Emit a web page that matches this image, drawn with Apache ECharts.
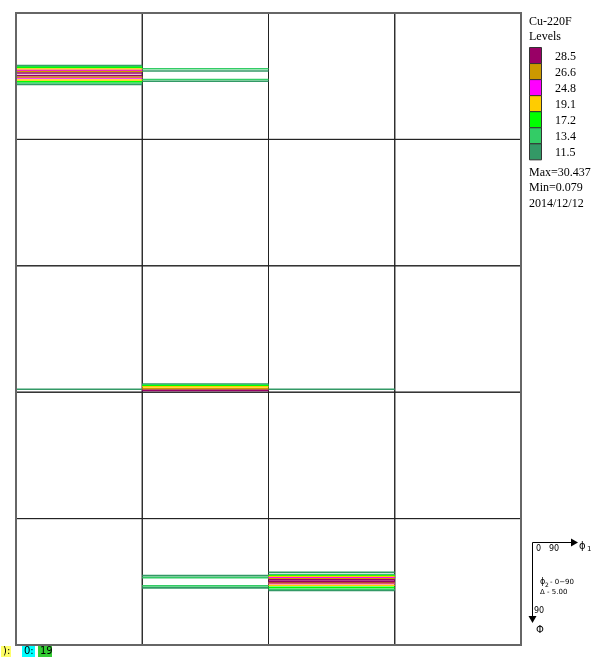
<!DOCTYPE html>
<html>
<head>
<meta charset="utf-8">
<script src="https://cdn.jsdelivr.net/npm/echarts@6/dist/echarts.min.js"></script>
<style>
  html, body { margin: 0; padding: 0; background: #fff; }
  #chart { width: 597px; height: 657px; }
</style>
</head>
<body>
<div id="chart"></div>
<script>
// ODF sections of Cu-220F: phi2 = 0..90 in 5 degree steps, each section phi1 (0-90) across, Phi (0-90) down.
const sectionPhi2 = [0, 5, 10, 15, 20, 25, 30, 35, 40, 45, 50, 55, 60, 65, 70, 75, 80, 85, 90];
const levels = [11.5, 13.4, 17.2, 19.1, 24.8, 26.6, 28.5];
const levelColors = ['#339966', '#33cc66', '#00ff00', '#ffcc00', '#ff00ff', '#cc9900', '#990066'];
const maxValue = 30.437;
const minValue = 0.079;
const dateLabel = '2014/12/12';

// Iso-intensity lines per section: [Phi, level value]; intensity is constant along phi1.
const contours_phi2_00 = [[37.4, 11.5], [38.1, 13.4], [38.8, 17.2], [39.9, 19.1], [40.9, 24.8], [41.7, 26.6], [42.7, 28.5],
                          [44.5, 28.5], [45.6, 26.6], [46.3, 24.8], [47.7, 19.1], [48.8, 17.2], [49.8, 13.4], [50.9, 11.5]];
const contours_phi2_05 = [[39.7, 13.4], [41.3, 11.5], [47.3, 13.4], [48.6, 11.5]];
const contours_phi2_40 = [[87.9, 11.5]];
const contours_phi2_45 = [[84.2, 11.5], [84.8, 13.4], [85.5, 17.2], [86.2, 19.1], [87.6, 26.6], [88.7, 28.5]];
const contours_phi2_50 = [[87.9, 11.5]];
const contours_phi2_85 = [[40.6, 11.5], [42.0, 13.4], [47.9, 13.4], [49.3, 11.5]];
const contours_phi2_90 = [[38.3, 11.5], [40.1, 13.4], [40.7, 17.2], [41.3, 19.1], [42.1, 24.8], [42.9, 26.6], [43.6, 28.5],
                          [45.0, 28.5], [45.6, 26.6], [46.1, 24.8], [47.5, 19.1], [49.0, 17.2], [50.3, 13.4], [51.1, 11.5]];

const contoursBySection = {
  0: contours_phi2_00, 5: contours_phi2_05, 40: contours_phi2_40, 45: contours_phi2_45,
  50: contours_phi2_50, 85: contours_phi2_85, 90: contours_phi2_90
};

// Panel layout
const frameLeft = 16, frameTop = 13, frameRight = 521, frameBottom = 645;
const nCols = 4, nRows = 5;
const cellW = (frameRight - frameLeft) / nCols;
const cellH = (frameBottom - frameTop) / nRows;

const grids = [], xAxes = [], yAxes = [], series = [];
for (let k = 0; k < nCols * nRows; k++) {
  const c = k % nCols, r = Math.floor(k / nCols);
  grids.push({
    left: frameLeft + c * cellW, top: frameTop + r * cellH, width: cellW, height: cellH,
    show: true, borderColor: '#222', borderWidth: 1, backgroundColor: 'transparent'
  });
  xAxes.push({ gridIndex: k, type: 'value', min: 0, max: 90, show: false });
  yAxes.push({ gridIndex: k, type: 'value', min: 0, max: 90, inverse: true, show: false });
  const phi2 = sectionPhi2[k];
  const lines = phi2 === undefined ? null : contoursBySection[phi2];
  if (!lines) continue;
  lines.forEach(([phi, lev]) => {
    series.push({
      type: 'line', xAxisIndex: k, yAxisIndex: k,
      data: [[0, phi], [90, phi]],
      symbol: 'none', silent: true, animation: false,
      lineStyle: { color: levelColors[levels.indexOf(lev)], width: 1.6 },
      z: 3 + levels.indexOf(lev)
    });
  });
}

// Legend, statistics and axis key
const serif = '"Liberation Serif", "Times New Roman", serif';
const graphics = [];
graphics.push({ type: 'rect', shape: { x: frameLeft, y: frameTop, width: frameRight - frameLeft, height: frameBottom - frameTop },
  style: { fill: 'none', stroke: '#666', lineWidth: 2 }, z: 10 });
graphics.push({ type: 'text', left: 529, top: 16, style: { text: 'Cu-220F', font: '12px ' + serif, fill: '#000' } });
graphics.push({ type: 'text', left: 529, top: 31, style: { text: 'Levels', font: '12px ' + serif, fill: '#000' } });
const swTop = 47.5, swH = 16.05;
levels.slice().reverse().forEach((lev, i) => {
  const idx = levels.length - 1 - i;
  graphics.push({ type: 'rect', shape: { x: 529.5, y: swTop + i * swH, width: 12, height: swH },
    style: { fill: levelColors[idx], stroke: '#333', lineWidth: 1 } });
  graphics.push({ type: 'text', x: 555, y: swTop + i * swH + swH / 2 + 1,
    style: { text: lev.toFixed(1), font: '12px ' + serif, fill: '#000', textVerticalAlign: 'middle' } });
});
graphics.push({ type: 'text', x: 529, y: 173, style: { text: 'Max=' + maxValue, font: '12px ' + serif, fill: '#000', textVerticalAlign: 'middle' } });
graphics.push({ type: 'text', x: 529, y: 188, style: { text: 'Min=' + minValue, font: '12px ' + serif, fill: '#000', textVerticalAlign: 'middle' } });
graphics.push({ type: 'text', x: 529, y: 204, style: { text: dateLabel, font: '12px ' + serif, fill: '#000', textVerticalAlign: 'middle' } });

// Axis key (phi1 to the right, Phi downward)
const small = '"DejaVu Sans", sans-serif';
graphics.push({ type: 'line', shape: { x1: 532.5, y1: 542.5, x2: 572, y2: 542.5 }, style: { stroke: '#000', lineWidth: 1 } });
graphics.push({ type: 'polygon', shape: { points: [[571, 538.5], [578, 542.5], [571, 546.5]] }, style: { fill: '#000' } });
graphics.push({ type: 'line', shape: { x1: 532.5, y1: 542.5, x2: 532.5, y2: 617 }, style: { stroke: '#000', lineWidth: 1 } });
graphics.push({ type: 'polygon', shape: { points: [[528.5, 616], [532.5, 623], [536.5, 616]] }, style: { fill: '#000' } });
graphics.push({ type: 'text', x: 536, y: 549, style: { text: '0', font: '8px ' + small, fill: '#000', textVerticalAlign: 'middle' } });
graphics.push({ type: 'text', x: 549, y: 549, style: { text: '90', font: '8px ' + small, fill: '#000', textVerticalAlign: 'middle' } });
graphics.push({ type: 'text', x: 579, y: 546, style: { text: 'ϕ', font: '10px ' + small, fill: '#000', textVerticalAlign: 'middle' } });
graphics.push({ type: 'text', x: 587, y: 549, style: { text: '1', font: '7px ' + small, fill: '#000', textVerticalAlign: 'middle' } });
graphics.push({ type: 'text', x: 540, y: 582, style: { text: 'ϕ', font: '8px ' + small, fill: '#000', textVerticalAlign: 'middle' } });
graphics.push({ type: 'text', x: 545, y: 585, style: { text: '2', font: '6px ' + small, fill: '#000', textVerticalAlign: 'middle' } });
graphics.push({ type: 'text', x: 550, y: 582, style: { text: '- 0−90', font: '7px ' + small, fill: '#000', textVerticalAlign: 'middle' } });
graphics.push({ type: 'text', x: 540, y: 592, style: { text: 'Δ - 5.00', font: '7px ' + small, fill: '#000', textVerticalAlign: 'middle' } });
graphics.push({ type: 'text', x: 534, y: 611, style: { text: '90', font: '8px ' + small, fill: '#000', textVerticalAlign: 'middle' } });
graphics.push({ type: 'text', x: 536, y: 630, style: { text: 'Φ', font: '10px ' + small, fill: '#000', textVerticalAlign: 'middle' } });

// Status markers at the bottom left
const marks = [[1, '):', '#ffff66', 10], [22, '0:', '#00ffff', 13], [38, '19', '#33cc33', 14]];
marks.forEach(([x, t, bg, w]) => {
  graphics.push({ type: 'rect', shape: { x: x, y: 646, width: w, height: 11 }, style: { fill: bg } });
  graphics.push({ type: 'text', x: x + 2, y: 651.5, style: { text: t, font: '10px ' + small, fill: '#000', textVerticalAlign: 'middle' } });
});

const chart = echarts.init(document.getElementById('chart'), null, { renderer: 'canvas' });
chart.setOption({
  animation: false,
  backgroundColor: '#fff',
  grid: grids, xAxis: xAxes, yAxis: yAxes, series: series,
  graphic: graphics
});
</script>
</body>
</html>
